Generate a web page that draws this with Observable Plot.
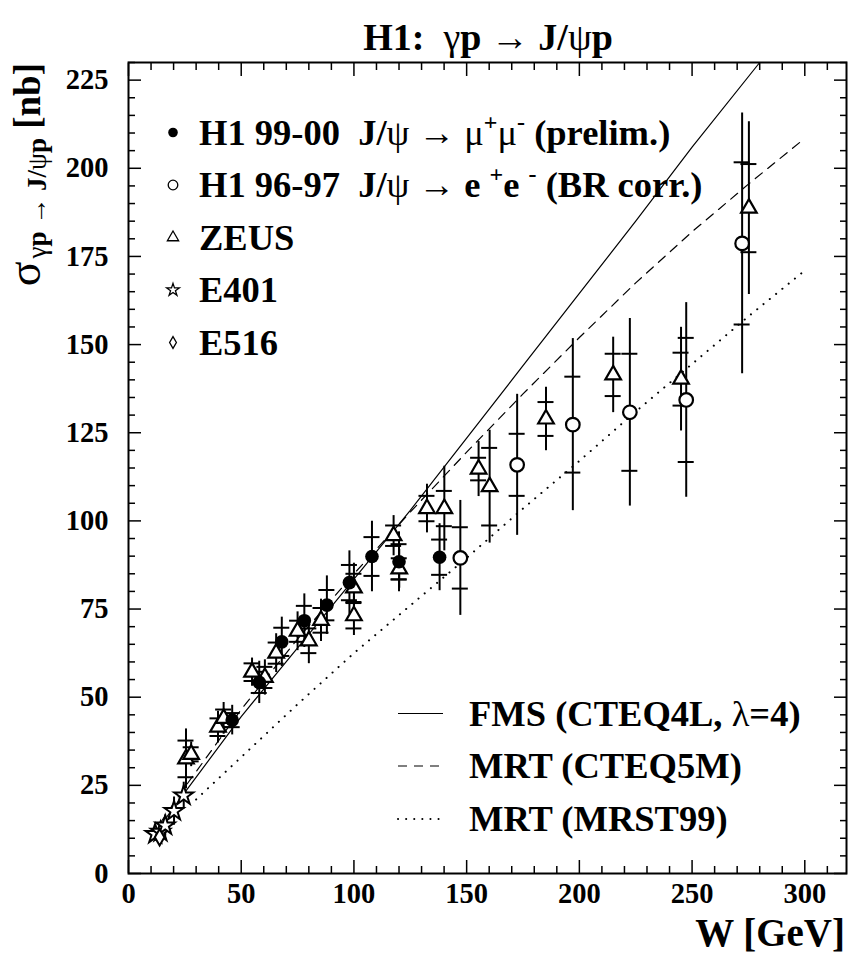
<!DOCTYPE html>
<html><head><meta charset="utf-8">
<script src="https://cdn.jsdelivr.net/npm/d3@7"></script>
<script src="https://cdn.jsdelivr.net/npm/@observablehq/plot@0.6"></script>
<style>
body{margin:0;background:#fff;}
#chart{width:850px;height:953px;}
svg{overflow:visible;}
</style></head><body><div id="chart"></div>
<script>
// ---- H1 99-00 (J/psi -> mu mu, prelim.) : filled circles
const h1new_W     = [46, 58, 68, 78, 88, 98, 108, 120, 138];
const h1new_sigma = [43.5, 54.2, 65.7, 71.7, 76.1, 82.5, 89.9, 88.4, 89.7];
const h1new_stat  = [2.0, 3.0, 4.0, 4.2, 4.3, 5.0, 5.5, 5.0, 5.0];
const h1new_tot   = [4.2, 6.0, 7.0, 7.6, 8.3, 9.0, 10.0, 8.5, 9.5];
// ---- H1 96-97 (J/psi -> e e, BR corr.) : open circles
const h1old_W     = [147.2, 172.4, 197.1, 222.4, 247.4, 272.2];
const h1old_sigma = [89.5, 115.9, 127.3, 130.8, 134.3, 178.7];
const h1old_stat  = [8.7, 8.8, 13.6, 16.6, 17.6, 23.0];
const h1old_tot   = [16.3, 20.0, 24.4, 26.6, 27.6, 37.0];
// ---- ZEUS : open triangles
const zeus_W     = [25.5, 27.8, 39.7, 42.2, 54.8, 60.5, 65.5, 75.0, 80.0, 85.4, 100.0, 100.0, 117.6, 120.1, 132.4, 140.1, 155.3, 160.2, 185.2, 215.0, 245.1, 275.2];
const zeus_sigma = [32.5, 33.8, 41.5, 44.0, 57.1, 55.6, 62.5, 68.7, 66.0, 71.8, 81.0, 73.1, 95.8, 86.4, 103.5, 103.5, 114.7, 109.7, 128.9, 141.4, 140.2, 188.7];
const zeus_stat  = [5.2, 2.0, 2.5, 2.5, 2.5, 3.0, 3.0, 3.0, 3.5, 3.5, 4.0, 3.6, 2.9, 3.0, 3.6, 5.0, 3.2, 11.0, 4.8, 6.0, 7.5, 12.5];
const zeus_tot   = [8.5, 3.5, 4.5, 4.5, 4.0, 5.0, 5.5, 5.5, 6.5, 6.0, 7.0, 5.6, 5.7, 5.5, 6.9, 12.0, 7.8, 16.0, 9.0, 10.7, 14.7, 24.5];
// ---- E401 : stars
const e401_W     = [11.8, 14.2, 16.3, 20.2, 24.5];
const e401_sigma = [11.2, 11.8, 13.6, 17.7, 22.1];
const e401_err   = [2.0, 2.5, 3.0, 4.0, 3.8];
// ---- E516 : diamond
const e516_W     = [13.8];
const e516_sigma = [10.3];
const e516_err   = [2.0];
// ---- theory curves
const fms_W      = [10, 25, 50, 75, 100, 125, 150, 175, 200, 225, 250, 280];
const fms_sigma  = [10, 23, 44.5, 64, 83.5, 103, 123.5, 144, 164.5, 185, 206, 230];
const mrt5_W     = [10, 25, 50, 75, 100, 125, 150, 175, 200, 225, 250, 275, 300];
const mrt5_sigma = [10.5, 24.5, 46.5, 66.5, 85, 102.5, 119.5, 136, 152, 167.5, 182, 195.5, 208.5];
const mrst_W     = [30, 50, 75, 100, 125, 150, 175, 200, 225, 250, 275, 300];
const mrst_sigma = [21, 33, 48, 62.5, 76, 89.5, 103.5, 117, 131, 144.5, 158, 171];
// ---- ticks
const xMajor = [0, 50, 100, 150, 200, 250, 300];
const yMajor = [0, 25, 50, 75, 100, 125, 150, 175, 200, 225];
const xMinor = d3.range(10, 319, 10).filter(v => v % 50 !== 0);
const yMinor = d3.range(5, 231, 5).filter(v => v % 25 !== 0);

const pts = (W, S, st, tot) => W.map((w, i) => ({W: w, s: S[i], stat: st ? st[i] : 0, tot: tot[i]}));
const curve = (W, S) => W.map((w, i) => ({W: w, s: S[i]}));

const h1new = pts(h1new_W, h1new_sigma, h1new_stat, h1new_tot);
const h1old = pts(h1old_W, h1old_sigma, h1old_stat, h1old_tot);
const zeus  = pts(zeus_W, zeus_sigma, zeus_stat, zeus_tot);
const e401  = pts(e401_W, e401_sigma, null, e401_err);
const e516  = pts(e516_W, e516_sigma, null, e516_err);
const withStat = [...h1new, ...h1old, ...zeus];
const allPts = [...withStat, ...e401, ...e516];

const FONT = "'Liberation Serif','Times New Roman',serif";

const errBars = Plot.ruleX(allPts, {x: "W", y1: d => d.s - d.tot, y2: d => d.s + d.tot, strokeWidth: 2});
const statTicks = (key) => Plot.ruleY(withStat, {y: d => d.s + key * d.stat, x1: "W", x2: "W", insetLeft: -8, insetRight: -8, strokeWidth: 2});

const plot = Plot.plot({
  width: 850, height: 953,
  marginLeft: 128, marginRight: 4, marginTop: 62, marginBottom: 80,
  style: {fontFamily: FONT, fontWeight: "bold", background: "white", color: "black"},
  x: {domain: [0, 318.5]},
  y: {domain: [0, 230]},
  marks: [
    // ticks (inward, all four sides)
    Plot.axisX(xMajor, {anchor: "bottom", tickSize: -13, fill: "none", strokeWidth: 1.5, label: null}),
    Plot.axisX(xMinor, {anchor: "bottom", tickSize: -7, fill: "none", strokeWidth: 1.5, label: null}),
    Plot.axisX(xMajor, {anchor: "top", tickSize: -13, fill: "none", strokeWidth: 1.5, label: null}),
    Plot.axisX(xMinor, {anchor: "top", tickSize: -7, fill: "none", strokeWidth: 1.5, label: null}),
    Plot.axisY(yMajor, {anchor: "left", tickSize: -13, fill: "none", strokeWidth: 1.5, label: null}),
    Plot.axisY(yMinor, {anchor: "left", tickSize: -7, fill: "none", strokeWidth: 1.5, label: null}),
    Plot.axisY(yMajor, {anchor: "right", tickSize: -13, fill: "none", strokeWidth: 1.5, label: null}),
    Plot.axisY(yMinor, {anchor: "right", tickSize: -7, fill: "none", strokeWidth: 1.5, label: null}),
    // tick labels
    Plot.axisX(xMajor, {anchor: "bottom", tickSize: 0, tickPadding: 9, fontSize: 28.5, fontWeight: "bold", label: null}),
    Plot.axisY(yMajor, {anchor: "left", tickSize: 0, tickPadding: 20, fontSize: 28.5, fontWeight: "bold", label: null}),
    // theory
    Plot.line(curve(fms_W, fms_sigma), {x: "W", y: "s", strokeWidth: 1.2, clip: true}),
    Plot.line(curve(mrt5_W, mrt5_sigma), {x: "W", y: "s", strokeWidth: 1.2, strokeDasharray: "9,7", clip: true}),
    Plot.line(curve(mrst_W, mrst_sigma), {x: "W", y: "s", strokeWidth: 2, strokeDasharray: "0.1,8", strokeLinecap: "round", clip: true}),
    // error bars
    errBars, statTicks(1), statTicks(-1),
    // markers
    Plot.dot(e401, {x: "W", y: "s", symbol: "star", r: 6, fill: "white", stroke: "black", strokeWidth: 2}),
    Plot.dot(e516, {x: "W", y: "s", symbol: "diamond", r: 5, fill: "white", stroke: "black", strokeWidth: 2}),
    Plot.dot(zeus, {x: "W", y: "s", symbol: "triangle", r: 5.8, fill: "white", stroke: "black", strokeWidth: 2.2}),
    Plot.dot(h1old, {x: "W", y: "s", symbol: "circle", r: 6.8, fill: "white", stroke: "black", strokeWidth: 2.2}),
    Plot.dot(h1new, {x: "W", y: "s", symbol: "circle", r: 6.8, fill: "black"}),
    Plot.frame({strokeWidth: 2})
  ]
});
document.getElementById("chart").appendChild(plot);

// ---- text annotations: title, axis titles, legends
const svg = d3.select(plot);
function addText(x, y, parts, {size = 36.5, anchor = "start", rotate = 0, sub = 0.3} = {}) {
  const t = svg.append("text")
    .attr("transform", `translate(${x},${y})` + (rotate ? ` rotate(${rotate})` : ""))
    .attr("font-family", FONT).attr("font-weight", "bold").attr("font-size", size)
    .attr("text-anchor", anchor).attr("fill", "black").style("white-space", "pre");
  let shift = 0;
  for (const p of parts) {
    const ts = t.append("tspan").text(p.t);
    const target = p.sup ? -size * 0.4 : p.sub ? size * sub : 0;
    if (target !== shift) { ts.attr("dy", target - shift); shift = target; }
    if (p.dx) ts.attr("dx", p.dx);
    if (p.size) ts.attr("font-size", p.size);
    if (p.light) ts.attr("font-weight", "normal");
  }
  return t;
}
// title
addText(488, 50, [{t: "H1:  "}, {t: "γ", light: true}, {t: "p "}, {t: "→", light: true}, {t: " J/"}, {t: "ψ", light: true}, {t: "p"}], {size: 38, anchor: "middle"});
// x title
addText(845, 946, [{t: "W [GeV]"}], {size: 39, anchor: "end"});
// y title
addText(40, 63, [{t: "σ", light: true, size: 46}, {t: "γ", sub: true, light: true, size: 27, dx: 3}, {t: "p ", sub: true, size: 27}, {t: "→", sub: true, light: true, size: 27}, {t: " J/", sub: true, size: 27}, {t: "ψ", sub: true, light: true, size: 27}, {t: "p", sub: true, size: 27}, {t: " [nb]", size: 37}], {size: 37, anchor: "end", rotate: -90, sub: 0.17});

// legend (markers)
const legX = 173, legTextX = 199;
const legY = [132.5, 185, 237.5, 290, 342.5];
const sym = (type, size) => d3.symbol(type, size)();
svg.append("circle").attr("cx", legX).attr("cy", legY[0]).attr("r", 4.8).attr("fill", "black");
svg.append("circle").attr("cx", legX).attr("cy", legY[1]).attr("r", 4.8).attr("fill", "white").attr("stroke", "black").attr("stroke-width", 1.3);
svg.append("path").attr("d", sym(d3.symbolTriangle, 55)).attr("transform", `translate(${legX},${legY[2]})`).attr("fill", "white").attr("stroke", "black").attr("stroke-width", 1.3);
svg.append("path").attr("d", sym(d3.symbolStar, 50)).attr("transform", `translate(${legX},${legY[3]})`).attr("fill", "white").attr("stroke", "black").attr("stroke-width", 1.3);
svg.append("path").attr("d", sym(d3.symbolDiamond, 40)).attr("transform", `translate(${legX},${legY[4]})`).attr("fill", "white").attr("stroke", "black").attr("stroke-width", 1.3);
const b = 12;
addText(legTextX, legY[0] + b, [{t: "H1 99-00  J/"}, {t: "ψ", light: true}, {t: " → ", light: true}, {t: "μ", light: true}, {t: "+", sup: true, size: 24}, {t: "μ", light: true}, {t: "-", sup: true, size: 24}, {t: " (prelim.)"}]);
addText(legTextX, legY[1] + b, [{t: "H1 96-97  J/"}, {t: "ψ", light: true}, {t: " → ", light: true}, {t: "e "}, {t: "+", sup: true, size: 24}, {t: "e "}, {t: "-", sup: true, size: 24}, {t: " (BR corr.)"}]);
addText(legTextX, legY[2] + b, [{t: "ZEUS"}]);
addText(legTextX, legY[3] + b, [{t: "E401"}]);
addText(legTextX, legY[4] + b, [{t: "E516"}]);

// legend (theory lines)
const lY = [713.5, 766, 819];
const lx1 = 398, lx2 = 443, ltx = 469;
svg.append("line").attr("x1", lx1).attr("x2", lx2).attr("y1", lY[0]).attr("y2", lY[0]).attr("stroke", "black").attr("stroke-width", 1.2);
svg.append("line").attr("x1", lx1).attr("x2", lx2).attr("y1", lY[1]).attr("y2", lY[1]).attr("stroke", "black").attr("stroke-width", 1.2).attr("stroke-dasharray", "9,7");
svg.append("line").attr("x1", lx1).attr("x2", lx2).attr("y1", lY[2]).attr("y2", lY[2]).attr("stroke", "black").attr("stroke-width", 2).attr("stroke-dasharray", "0.1,8").attr("stroke-linecap", "round");
addText(ltx, lY[0] + b, [{t: "FMS (CTEQ4L, "}, {t: "λ", light: true}, {t: "=4)"}]);
addText(ltx, lY[1] + b, [{t: "MRT (CTEQ5M)"}]);
addText(ltx, lY[2] + b, [{t: "MRT (MRST99)"}]);
</script></body></html>
